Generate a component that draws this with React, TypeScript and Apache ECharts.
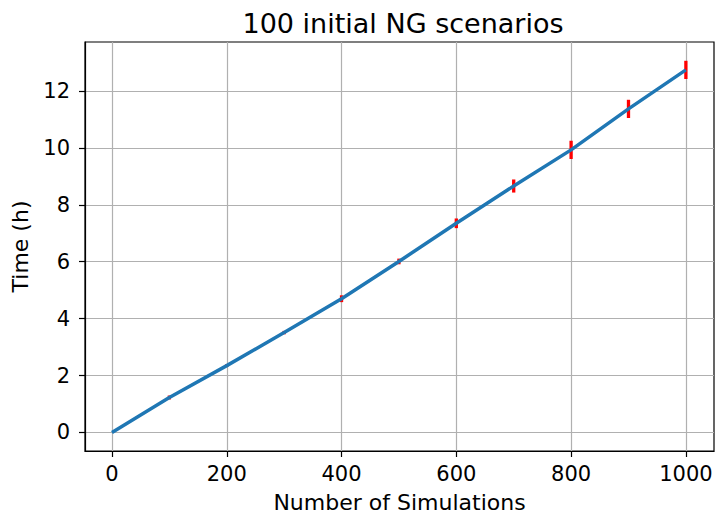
import React, { useEffect, useRef } from "react";
import * as echarts from "echarts";

const simulations = [0, 100, 200, 300, 400, 500, 600, 700, 800, 900, 1000];
const timeHours = [0, 1.23, 2.35, 3.51, 4.7, 6.01, 7.35, 8.66, 9.93, 11.37, 12.74];
const timeErr = [0, 0.07, 0.05, 0.06, 0.12, 0.1, 0.17, 0.23, 0.32, 0.32, 0.32];
const xTicks = [0, 200, 400, 600, 800, 1000];
const yTicks = [0, 2, 4, 6, 8, 10, 12];

const FONT = "DejaVu Sans";

export default function App() {
  const ref = useRef<HTMLDivElement>(null);
  useEffect(() => {
    document.body.style.margin = "0";
    const chart = echarts.init(ref.current!, null, { renderer: "svg" });
    const lineData = simulations.map((x, i) => [x, timeHours[i]]);
    const errData = simulations.map((x, i) => [x, timeHours[i] - timeErr[i], timeHours[i] + timeErr[i]]);
    chart.setOption({
      animation: false,
      backgroundColor: "#ffffff",
      title: {
        text: "100 initial NG scenarios",
        left: 398,
        textAlign: "center",
        top: 5,
        textStyle: { fontFamily: FONT, fontSize: 27, fontWeight: "normal", color: "#000" },
      },
      grid: {
        left: 85,
        right: 1,
        top: 42,
        bottom: 67,
        show: true,
        borderColor: "#000",
        borderWidth: 1.2,
        backgroundColor: "transparent",
        outerBoundsMode: "none",
        containLabel: false,
      },
      xAxis: {
        type: "value",
        min: -47,
        max: 1049,
        name: "Number of Simulations",
        nameLocation: "middle",
        nameGap: 40,
        nameTextStyle: { fontFamily: FONT, fontSize: 22, color: "#000" },
        axisLine: { show: true, onZero: false, lineStyle: { color: "#000", width: 1.2 } },
        axisTick: { show: true, length: 6, lineStyle: { color: "#000", width: 1.2 }, customValues: xTicks },
        axisLabel: {
          fontFamily: FONT, fontSize: 21, color: "#000", margin: 12, customValues: xTicks,
          formatter: (v: number) => String(v),
        },
        splitLine: { show: true, lineStyle: { color: "#b0b0b0", width: 1.2 }, customValues: xTicks },
      },
      yAxis: {
        type: "value",
        min: -0.65,
        max: 13.72,
        name: "Time (h)",
        nameLocation: "middle",
        nameGap: 54,
        nameTextStyle: { fontFamily: FONT, fontSize: 22, color: "#000" },
        axisLine: { show: true, onZero: false, lineStyle: { color: "#000", width: 1.2 } },
        axisTick: { show: true, length: 6, lineStyle: { color: "#000", width: 1.2 }, customValues: yTicks },
        axisLabel: {
          fontFamily: FONT, fontSize: 21, color: "#000", margin: 15, customValues: yTicks,
          formatter: (v: number) => String(v),
        },
        splitLine: { show: true, lineStyle: { color: "#b0b0b0", width: 1.2 }, customValues: yTicks },
      },
      series: [
        {
          type: "custom",
          z: 2,
          data: errData,
          renderItem: (params: any, api: any) => {
            const x = api.value(0);
            const lo = api.coord([x, api.value(1)]);
            const hi = api.coord([x, api.value(2)]);
            return {
              type: "line",
              shape: { x1: lo[0], y1: lo[1], x2: hi[0], y2: hi[1] },
              style: { stroke: "#ff0000", lineWidth: 3.3 },
            };
          },
        },
        {
          type: "line",
          z: 3,
          data: lineData,
          showSymbol: false,
          symbol: "none",
          lineStyle: { color: "#1f77b4", width: 3.5 },
        },
      ],
    });
    return () => chart.dispose();
  }, []);
  return <div ref={ref} style={{ width: 715, height: 518 }} />;
}
